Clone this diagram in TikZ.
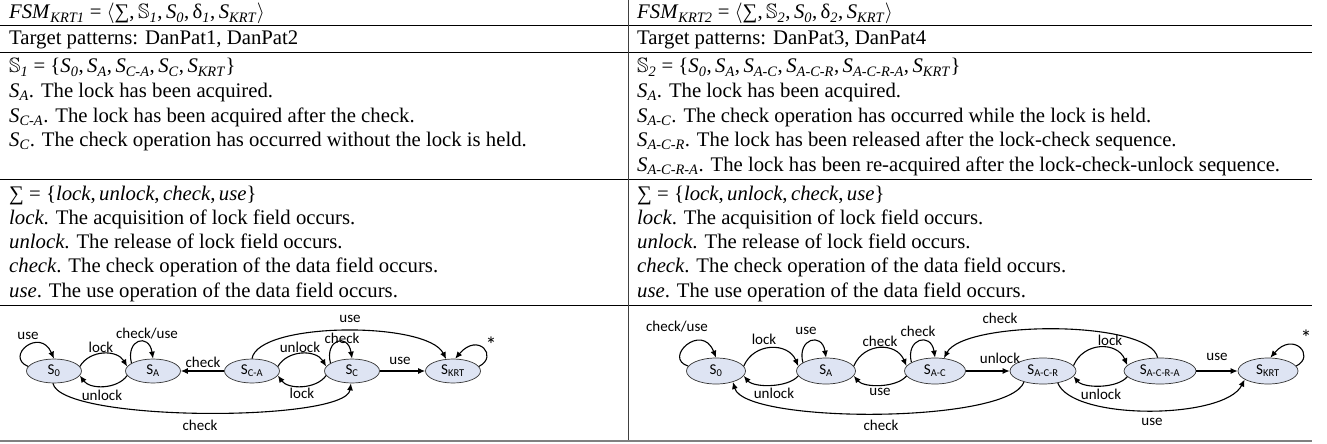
\documentclass[tikz,border=0pt]{standalone}
\usepackage{fontspec}
\usepackage{amssymb}
\setmainfont{Liberation Serif}
\newfontfamily\dfont{Carlito}
\usetikzlibrary{shapes.geometric,arrows.meta}
\definecolor{nodefill}{RGB}{222,228,243}
\newcommand{\Sx}[2]{\textit{#1}\textsubscript{\textit{#2}}}
\newcommand{\tsz}{\fontsize{20.74}{24}\selectfont}
\newcommand{\dsz}{\dfont\fontsize{15}{15}\selectfont}
\tikzset{
  txt/.style={anchor=base west, inner sep=0pt, font=\tsz},
  rl/.style={line width=0.8pt, black},
  st/.style={ellipse, draw=black!80, line width=0.7pt, fill=nodefill, minimum width=55pt, minimum height=24pt, inner sep=1pt, font=\dsz},
  lbl/.style={font=\dsz, inner sep=0pt},
  ast/.style={font=\dfont\fontsize{22}{22}\selectfont, inner sep=0pt},
  tr/.style={-{Latex[length=7pt,width=6pt]}, line width=1.1pt, black}
}
\begin{document}
\begin{tikzpicture}[x=1pt,y=-1pt]
\useasboundingbox (0,0) rectangle (1327,444);
% ---------- table rules
\draw[rl] (0,25.5) -- (1312,25.5);
\draw[rl] (0,52.5) -- (1312,52.5);
\draw[rl] (0,179) -- (1312,179);
\draw[rl] (0,305) -- (1312,305);
\draw[line width=2.5pt, black!50] (0,441) -- (1312,441);
\draw[line width=0.8pt, black!75] (628,0) -- (628,440);
% ---------- left column text
\node[txt] (tl1) at (9,19) {\Sx{FSM}{KRT1} = $\langle$∑,\,$\mathbb{S}$\textsubscript{\textit{1}},\,\Sx{S}{0},\,δ\textsubscript{\textit{1}},\,\Sx{S}{KRT}$\rangle$};
\node[txt] (tl2) at (9,45) {Target patterns: DanPat1, DanPat2};
\node[txt] (tl3) at (9,73) {$\mathbb{S}$\textsubscript{\textit{1}} = \{\Sx{S}{0},\,\Sx{S}{A},\,\Sx{S}{C-A},\,\Sx{S}{C},\,\Sx{S}{KRT}\}};
\node[txt] (tl4) at (9,97.5) {\Sx{S}{A}. The lock has been acquired.};
\node[txt] (tl5) at (9,122) {\Sx{S}{C-A}. The lock has been acquired after the check.};
\node[txt] (tl6) at (9,146.5) {\Sx{S}{C}. The check operation has occurred without the lock is held.};
\node[txt] (tl8) at (9,200) {∑ = \{\textit{lock},\,\textit{unlock},\,\textit{check},\,\textit{use}\}};
\node[txt] (tl9) at (9,224.3) {\textit{lock}. The acquisition of lock field occurs.};
\node[txt] (tl10) at (9,248.6) {\textit{unlock}. The release of lock field occurs.};
\node[txt] (tl11) at (9,272.9) {\textit{check}. The check operation of the data field occurs.};
\node[txt] (tl12) at (9,297.2) {\textit{use}. The use operation of the data field occurs.};
% ---------- right column text
\node[txt] (tr1) at (637,19) {\Sx{FSM}{KRT2} = $\langle$∑,\,$\mathbb{S}$\textsubscript{\textit{2}},\,\Sx{S}{0},\,δ\textsubscript{\textit{2}},\,\Sx{S}{KRT}$\rangle$};
\node[txt] (tr2) at (637,45) {Target patterns: DanPat3, DanPat4};
\node[txt] (tr3) at (637,73) {$\mathbb{S}$\textsubscript{\textit{2}} = \{\Sx{S}{0},\,\Sx{S}{A},\,\Sx{S}{A-C},\,\Sx{S}{A-C-R},\,\Sx{S}{A-C-R-A},\,\Sx{S}{KRT}\}};
\node[txt] (tr4) at (637,97.5) {\Sx{S}{A}. The lock has been acquired.};
\node[txt] (tr5) at (637,122) {\Sx{S}{A-C}. The check operation has occurred while the lock is held.};
\node[txt] (tr6) at (637,146.5) {\Sx{S}{A-C-R}. The lock has been released after the lock-check sequence.};
\node[txt] (tr7) at (637,171) {\Sx{S}{A-C-R-A}. The lock has been re-acquired after the lock-check-unlock sequence.};
\node[txt] (tr8) at (637,200) {∑ = \{\textit{lock},\,\textit{unlock},\,\textit{check},\,\textit{use}\}};
\node[txt] (tr9) at (637,224.3) {\textit{lock}. The acquisition of lock field occurs.};
\node[txt] (tr10) at (637,248.6) {\textit{unlock}. The release of lock field occurs.};
\node[txt] (tr11) at (637,272.9) {\textit{check}. The check operation of the data field occurs.};
\node[txt] (tr12) at (637,297.2) {\textit{use}. The use operation of the data field occurs.};
% ---------- left diagram
\node[st] (a0) at (54,371) {S\textsubscript{0}};
\node[st] (aA) at (153,371) {S\textsubscript{A}};
\node[st] (aCA) at (252,371) {S\textsubscript{C-A}};
\node[st] (aC) at (352,371) {S\textsubscript{C}};
\node[st] (aK) at (453,371) {S\textsubscript{KRT}};
\draw[tr] (a0.170) .. controls +(-24,-10) and +(-14,-32) .. (a0.north) node[lbl] at (28,336) {use};
\draw[tr] (a0.10) .. controls +(10,-17) and +(-10,-17) .. (aA.170) node[lbl] at (101,347) {lock};
\draw[tr] (aA.190) .. controls +(-10,14) and +(10,14) .. (a0.350) node[lbl] at (102,395) {unlock};
\draw[tr] (aA.160) .. controls +(-6,-24) and +(-4,-26) .. (aA.north) node[lbl] at (147,334) {check/use};
\draw[tr] (aCA.west) -- (aA.east) node[lbl] at (203,362) {check};
\draw[tr] (aCA.10) .. controls +(10,-17) and +(-10,-17) .. (aC.170) node[lbl] at (300,347) {unlock};
\draw[tr] (aC.190) .. controls +(-10,14) and +(10,14) .. (aCA.350) node[lbl] at (302,393) {lock};
\draw[tr] (aC.160) .. controls +(-6,-24) and +(-4,-26) .. (aC.north) node[lbl] at (342,338) {check};
\draw[tr] (aC.east) -- (aK.west) node[lbl] at (400,361) {use};
\draw[tr] (aCA.north) .. controls +(6,-37) and +(-19,-38) .. (aK.120) node[lbl] at (350,319) {use};
\draw[tr] (aK.10) .. controls +(20,-10) and +(23,-27) .. (aK.80) node[ast] at (491,345) {*};
\draw[tr] (a0.265) .. controls +(8,39) and +(-5,39) .. (aC.265) node[lbl] at (200,425) {check};
% ---------- right diagram
\node[st, minimum width=59pt, minimum height=26pt] (b0) at (716,371) {S\textsubscript{0}};
\node[st, minimum width=59pt, minimum height=26pt] (bA) at (826,371) {S\textsubscript{A}};
\node[st, minimum width=61pt, minimum height=26pt] (bAC) at (935,371) {S\textsubscript{A-C}};
\node[st, minimum width=66pt, minimum height=26pt] (bACR) at (1043,371) {S\textsubscript{A-C-R}};
\node[st, minimum width=72pt, minimum height=26pt] (bACRA) at (1160,371) {S\textsubscript{A-C-R-A}};
\node[st, minimum width=60pt, minimum height=26pt] (bK) at (1268,371) {S\textsubscript{KRT}};
\draw[tr] (b0.170) .. controls +(-26,-8) and +(-14,-36) .. (b0.north) node[lbl] at (677,327) {check/use};
\draw[tr] (b0.10) .. controls +(10,-24) and +(-10,-24) .. (bA.170) node[lbl] at (764,339) {lock};
\draw[tr] (bA.190) .. controls +(-10,12) and +(10,12) .. (b0.350) node[lbl] at (774,393) {unlock};
\draw[tr] (bA.160) .. controls +(-6,-24) and +(-4,-26) .. (bA.north) node[lbl] at (806,331) {use};
\draw[tr] (bA.10) .. controls +(10,-24) and +(-10,-24) .. (bAC.170) node[lbl] at (880,341) {check};
\draw[tr] (bAC.190) .. controls +(-10,12) and +(10,12) .. (bA.350) node[lbl] at (880,392) {use};
\draw[tr] (bAC.160) .. controls +(-6,-24) and +(-4,-26) .. (bAC.north) node[lbl] at (918,331) {check};
\draw[tr] (bAC.east) -- (bACR.west) node[lbl] at (1000,358) {unlock};
\draw[tr] (bACRA.100) .. controls +(-8,-38) and +(20,-38) .. (bAC.55) node[lbl] at (1000,318) {check};
\draw[tr] (bACR.10) .. controls +(10,-24) and +(-10,-24) .. (bACRA.170) node[lbl] at (1110,340) {lock};
\draw[tr] (bACRA.190) .. controls +(-10,12) and +(10,12) .. (bACR.350) node[lbl] at (1101,394) {unlock};
\draw[tr] (bACRA.east) -- (bK.west) node[lbl] at (1217,357) {use};
\draw[tr] (bK.10) .. controls +(20,-10) and +(23,-27) .. (bK.80) node[ast] at (1306,338) {*};
\draw[tr] (bACR.210) .. controls +(-15,42) and +(12,42) .. (b0.327) node[lbl] at (881,425) {check};
\draw[tr] (bACR.321) .. controls +(15,38) and +(-20,40) .. (bK.200) node[lbl] at (1152,422) {use};
\end{tikzpicture}
\end{document}
